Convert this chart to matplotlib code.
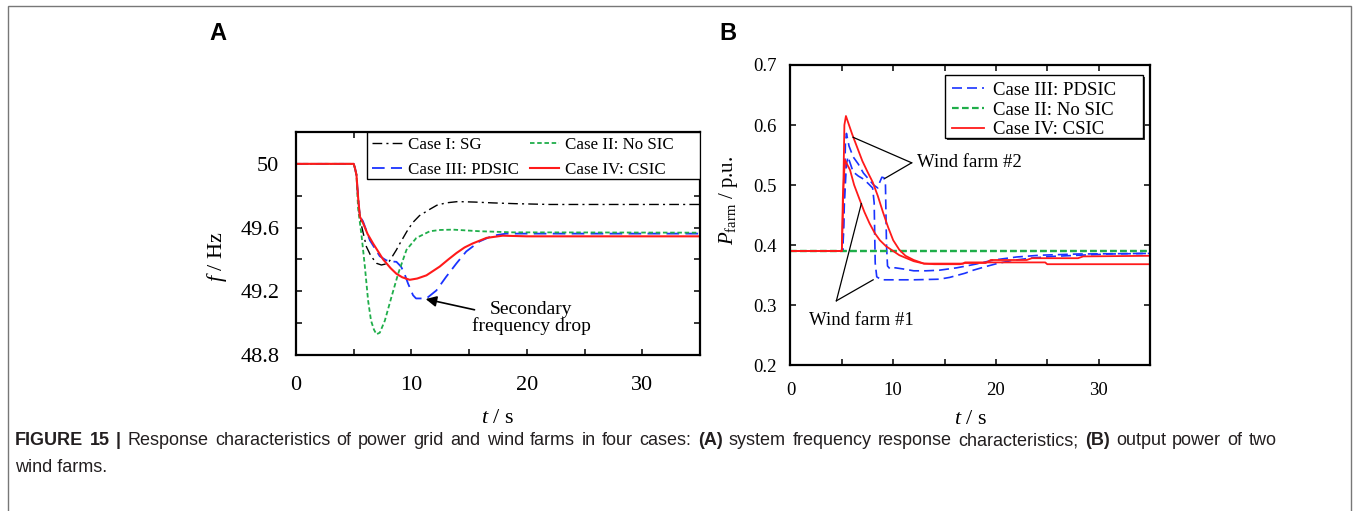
"""
Response of grid frequency and wind farm power, four control cases
"""
import matplotlib
matplotlib.use('Agg')
from matplotlib import pyplot as plt, ticker
from matplotlib.patches import Rectangle

plt.rcParams['font.family'] = ['Liberation Serif', 'DejaVu Serif']
plt.rcParams['mathtext.fontset'] = 'custom'
plt.rcParams['mathtext.rm'] = 'Liberation Serif'
plt.rcParams['mathtext.it'] = 'Liberation Serif:italic'

# ---- panel A: system frequency (Hz) ----
t_sg = [0, 5.0, 5.12, 5.24, 5.38, 5.53, 5.68, 6.1, 6.5, 7.0, 7.4, 7.8, 8.1, 8.7, 9.0, 9.6, 10.1,
        10.7, 11.6, 12.2, 13.0, 14.0, 15.5, 17, 19, 22, 35]
f_sg = [50, 50, 49.97, 49.93, 49.79, 49.68, 49.61, 49.48, 49.42, 49.375, 49.365, 49.372, 49.39,
        49.46, 49.50, 49.575, 49.63, 49.675, 49.715, 49.74, 49.755, 49.763, 49.76, 49.755, 49.75,
        49.745, 49.745]

t_nosic = [0, 5.0, 5.12, 5.24, 5.38, 5.68, 5.96, 6.25, 6.5, 6.75, 6.97, 7.26, 7.7, 8.27, 8.85,
           9.57, 10.43, 11.6, 12.5, 13.6, 15.9, 18.8, 35]
f_nosic = [50, 50, 49.97, 49.93, 49.72, 49.55, 49.36, 49.14, 49.016, 48.96, 48.93, 48.94, 49.016,
           49.164, 49.31, 49.46, 49.535, 49.577, 49.585, 49.587, 49.577, 49.57, 49.568]

t_pdsic = [0, 5.0, 5.12, 5.24, 5.38, 5.53, 5.8, 6.4, 6.83, 7.26, 7.8, 8.1, 8.7, 9.1, 9.4, 9.7,
           10.14, 10.4, 11.3, 12.16, 13.0, 13.9, 14.75, 15.9, 17.05, 18.2, 20, 35]
f_pdsic = [50, 50, 49.97, 49.93, 49.79, 49.67, 49.64, 49.52, 49.47, 49.42, 49.395, 49.388, 49.385,
           49.355, 49.31, 49.25, 49.175, 49.155, 49.155, 49.205, 49.29, 49.375, 49.45, 49.513,
           49.549, 49.562, 49.562, 49.562]

t_csic = [0, 5.0, 5.12, 5.24, 5.38, 5.53, 5.8, 6.2, 6.68, 7.55, 8.2, 8.7, 9.2, 9.85, 10.5, 11.3,
          12.45, 13.2, 13.9, 14.6, 15.3, 16.5, 17.9, 20, 35]
f_csic = [50, 50, 49.97, 49.93, 49.79, 49.67, 49.63, 49.56, 49.50, 49.40, 49.345, 49.31, 49.288,
          49.272, 49.28, 49.30, 49.355, 49.40, 49.44, 49.475, 49.50, 49.535, 49.549, 49.545, 49.545]

# ---- panel B: wind farm output power (p.u.) ----
t_nosic_w1 = [0, 35]
p_nosic_w1 = [0.39, 0.39]
t_nosic_w2 = [0, 35]
p_nosic_w2 = [0.39, 0.39]

t_pdsic_w1 = [0, 5.1, 5.25, 5.45, 5.6, 6.1, 6.6, 7.1, 7.6, 8.0, 8.15, 8.25, 8.4, 8.85, 9.5,
              10.3, 12, 14.5, 15.5, 17, 17.8, 19, 20.1, 21.5, 23.3, 25.5, 28.2, 31, 35]
p_pdsic_w1 = [0.39, 0.39, 0.47, 0.535, 0.547, 0.522, 0.515, 0.51, 0.502, 0.495, 0.47, 0.37,
              0.347, 0.342, 0.342, 0.342, 0.342, 0.343, 0.346, 0.353, 0.358, 0.364, 0.369,
              0.374, 0.378, 0.381, 0.383, 0.385, 0.386]
t_pdsic_w2 = [0, 5.1, 5.2, 5.35, 5.45, 5.7, 6.1, 6.6, 7.1, 7.6, 8.1, 8.5, 8.7, 8.9, 9.1, 9.25,
              9.35, 9.45, 9.7, 10.2, 11, 12, 13.2, 14.5, 16.2, 18, 19.8, 22, 24.3, 28, 35]
p_pdsic_w2 = [0.39, 0.39, 0.45, 0.57, 0.586, 0.565, 0.547, 0.535, 0.52, 0.51, 0.50, 0.495, 0.505,
              0.513, 0.512, 0.50, 0.40, 0.365, 0.36, 0.362, 0.36, 0.357, 0.357, 0.358, 0.362,
              0.368, 0.375, 0.38, 0.383, 0.385, 0.386]

t_csic_w1 = [0, 5.0, 5.1, 5.3, 5.5, 5.8, 6.2, 6.75, 7.2, 7.7, 8.2, 8.7, 9.3, 10.0, 10.6, 11.3,
             12.0, 13.0, 16.8, 17.0, 24.8, 25.0, 35]
p_csic_w1 = [0.39, 0.39, 0.48, 0.542, 0.535, 0.525, 0.50, 0.475, 0.455, 0.436, 0.42, 0.408, 0.398,
             0.39, 0.383, 0.378, 0.373, 0.369, 0.369, 0.371, 0.371, 0.368, 0.368]
t_csic_w2 = [0, 5.0, 5.1, 5.25, 5.4, 5.6, 6.0, 6.4, 7.0, 7.5, 8.0, 8.5, 9.0, 9.5, 10.0, 10.6,
             11.2, 12.0, 13.0, 14, 16.5, 17, 19, 19.5, 23, 23.5, 28, 28.5, 35]
p_csic_w2 = [0.39, 0.39, 0.45, 0.60, 0.615, 0.605, 0.585, 0.567, 0.54, 0.522, 0.505, 0.482,
             0.455, 0.43, 0.408, 0.392, 0.382, 0.375, 0.369, 0.368, 0.368, 0.370, 0.370, 0.375,
             0.375, 0.378, 0.378, 0.381, 0.382]

caption_line1 = ("**FIGURE **15 **| Response characteristics of power grid and wind farms in four "
                 "cases: **(A) system frequency response characteristics; **(B) output power of two")
caption_line2 = "wind farms."

RED = '#ff1a1a'
BLUE = '#1a33ff'
GREEN = '#1fae4a'


def style_axes(ax, tick_size, xpad, ypad):
    ax.set_xlim(0, 35)
    ax.xaxis.set_major_locator(ticker.MultipleLocator(10))
    ax.xaxis.set_minor_locator(ticker.MultipleLocator(5))
    ax.tick_params(which='both', direction='in', top=True, right=True, length=4.5, width=1.1,
                   labelsize=tick_size)
    ax.tick_params(axis='x', pad=xpad)
    ax.tick_params(axis='y', pad=ypad)
    for s in ax.spines.values():
        s.set_linewidth(1.6)


def legend_box(ax, x, y, w, h, shadow=False):
    # legend frame drawn by hand so the box can be wider than its entries
    if shadow:
        ax.add_patch(Rectangle((x + 0.006, y - 0.007), w, h, transform=ax.transAxes,
                               facecolor='0.2', edgecolor='none', zorder=4))
    ax.add_patch(Rectangle((x, y), w, h, transform=ax.transAxes, facecolor='white',
                           edgecolor='k', lw=1.0, zorder=4.5))


fig = plt.figure(figsize=(13.54, 5.11), dpi=100)

# --- A ---
ax_a = fig.add_axes([0.2186, 0.3053, 0.2984, 0.4364])
ax_a.plot(t_sg, f_sg, color='k', lw=1.0, dashes=(7, 3, 1.5, 3), label='Case I: SG')
ax_a.plot(t_pdsic, f_pdsic, color=BLUE, lw=1.3, dashes=(7, 3.5), label='Case III: PDSIC')
ax_a.plot(t_nosic, f_nosic, color=GREEN, lw=1.3, dashes=(2.5, 1.5), label='Case II: No SIC')
ax_a.plot(t_csic, f_csic, color=RED, lw=1.5, label='Case IV: CSIC')
ax_a.set_ylim(48.8, 50.2)
style_axes(ax_a, 16, 15, 12)
ax_a.yaxis.set_major_locator(ticker.MultipleLocator(0.4))
ax_a.yaxis.set_minor_locator(ticker.MultipleLocator(0.2))
ax_a.yaxis.set_major_formatter(ticker.FuncFormatter(lambda v, p: f'{v:g}'))
ax_a.set_ylabel('$f$ / Hz', fontsize=16)
ax_a.yaxis.set_label_coords(-0.165, 0.44)
ax_a.set_xlabel('$t$ / s', fontsize=16)
ax_a.xaxis.set_label_coords(0.5, -0.24)
legend_box(ax_a, 0.1757, 0.788, 0.8243, 0.212)
ax_a.legend(ncol=2, loc='upper left', bbox_to_anchor=(0.1757, 1.0), borderaxespad=0,
            fontsize=12.2, frameon=False, handlelength=1.75, columnspacing=0.65,
            labelspacing=0.55, borderpad=0.3, handletextpad=0.35)
ax_a.annotate('', xy=(11.0, 49.155), xytext=(15.7, 49.08),
              arrowprops=dict(arrowstyle='-|>', color='k', lw=1.2, mutation_scale=16))
ax_a.text(20.4, 49.03, 'Secondary\nfrequency drop', fontsize=14, ha='center', va='center',
          linespacing=0.95)
fig.text(218 / 1354, 1 - 33 / 511, 'A', fontsize=17, fontweight='bold', ha='center',
         va='center', family='Liberation Sans')

# --- B ---
ax_b = fig.add_axes([0.5838, 0.2857, 0.2655, 0.5871])
ax_b.plot(t_pdsic_w1, p_pdsic_w1, color=BLUE, lw=1.2, dashes=(6, 3), label='Case III: PDSIC')
ax_b.plot(t_pdsic_w2, p_pdsic_w2, color=BLUE, lw=1.2, dashes=(6, 3))
ax_b.plot(t_nosic_w1, p_nosic_w1, color=GREEN, lw=1.6, dashes=(3, 1.5), label='Case II: No SIC')
ax_b.plot(t_nosic_w2, p_nosic_w2, color=GREEN, lw=1.6, dashes=(3, 1.5))
ax_b.plot(t_csic_w1, p_csic_w1, color=RED, lw=1.3, label='Case IV: CSIC')
ax_b.plot(t_csic_w2, p_csic_w2, color=RED, lw=1.3)
ax_b.set_ylim(0.2, 0.7)
style_axes(ax_b, 13.5, 12, 10)
ax_b.yaxis.set_major_locator(ticker.MultipleLocator(0.1))
ax_b.set_ylabel(r'$P_{\mathrm{farm}}$ / p.u.', fontsize=15)
ax_b.yaxis.set_label_coords(-0.14, 0.55)
ax_b.set_xlabel('$t$ / s', fontsize=16)
ax_b.xaxis.set_label_coords(0.5, -0.15)
legend_box(ax_b, 0.4298, 0.7557, 0.551, 0.2113, shadow=True)
ax_b.legend(loc='upper left', bbox_to_anchor=(0.4298, 0.967), borderaxespad=0,
            fontsize=13.5, frameon=False, handlelength=1.75, labelspacing=0.15,
            borderpad=0.35, handletextpad=0.45)

arm = dict(color='k', lw=0.9)
ax_b.plot([11.8, 6.1], [0.537, 0.5795], **arm)
ax_b.plot([11.8, 9.19], [0.537, 0.511], **arm)
ax_b.text(12.3, 0.537, 'Wind farm #2', fontsize=13.5, va='center')
ax_b.plot([4.47, 6.9], [0.307, 0.469], **arm)
ax_b.plot([4.47, 8.05], [0.307, 0.342], **arm)
ax_b.text(1.8, 0.275, 'Wind farm #1', fontsize=13.5, va='center')
fig.text(728 / 1354, 1 - 33 / 511, 'B', fontsize=17, fontweight='bold', ha='center',
         va='center', family='Liberation Sans')

# outer frame
fig.patches.append(Rectangle((8 / 1354, -0.05), 1343 / 1354, 1 - 6 / 511 + 0.05,
                             transform=fig.transFigure, fill=False, edgecolor='#777777', lw=1.0))

# caption, first line justified word by word
renderer = fig.canvas.get_renderer()
cap_kw = dict(fontsize=13, family='Liberation Sans', color='#231f20', va='baseline')
x0, x1 = 15 / 1354, 1277 / 1354
y1 = 1 - 445 / 511
texts = []
for w in caption_line1.split(' '):
    bold = w.startswith('**')
    texts.append(fig.text(0, y1, w.replace('**', ''), fontweight='bold' if bold else 'normal',
                          **cap_kw))
widths = [t.get_window_extent(renderer).width / fig.bbox.width for t in texts]
gap = (x1 - x0 - sum(widths)) / (len(texts) - 1)
x = x0
for txt, w in zip(texts, widths):
    txt.set_x(x)
    x += w + gap
fig.text(x0, 1 - 472 / 511, caption_line2, **cap_kw)

plt.savefig('out.png', dpi=100)
